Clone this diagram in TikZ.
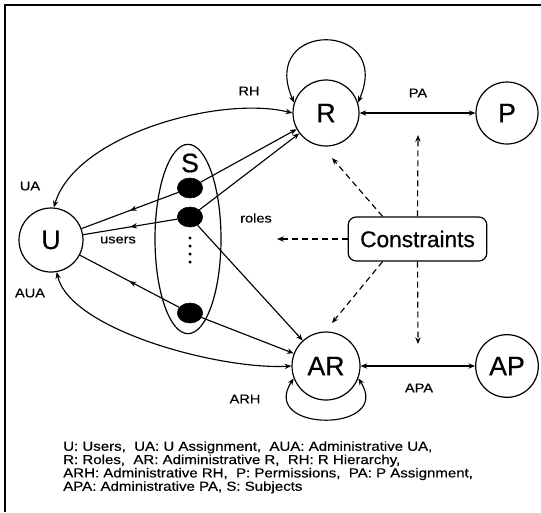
\documentclass[tikz,border=0pt]{standalone}
\usepackage{fontspec}
\setmainfont{Liberation Sans}[FakeBold=0.6]
\newfontfamily\lblfont{Liberation Sans}[FakeStretch=1.15,FakeBold=0.4]
\usetikzlibrary{arrows.meta,decorations.markings,calc,shapes.geometric}
\begin{document}
\begin{tikzpicture}[x=0.75pt,y=-0.75pt,
  bigc/.style={circle,draw,line width=0.9pt,inner sep=0pt,font=\fontsize{20}{20}\selectfont},
  dotn/.style={ellipse,fill,draw,inner sep=0pt,minimum width=19pt,minimum height=15pt},
  conn/.style={line width=0.85pt},
  tip/.style={-{Stealth[length=5pt,width=4pt]}},
  tips/.style={{Stealth[length=5pt,width=4pt]}-{Stealth[length=5pt,width=4pt]}},
  dasharrow/.style={line width=0.85pt,dash pattern=on 4.5pt off 3pt,-{Stealth[length=5pt,width=4pt]}},
  midarrow/.style={postaction={decorate},decoration={markings,mark=at position 0.5 with {\arrow{Stealth[length=5pt,width=4pt]}}}},
  lbl/.style={font=\lblfont\fontsize{9.5}{10}\selectfont,inner sep=0pt}
]
\useasboundingbox (0,0) rectangle (541,512);
% frame (open on right and bottom)
\draw[line width=1.1pt] (5,512) -- (5,5) -- (541,5);

% main nodes
\node[bigc,minimum size=48pt] (U) at (51,240) {U};
\node[bigc,minimum size=49.5pt] (R) at (326,113) {R};
\node[bigc,minimum size=46.5pt] (P) at (507,113) {P};
\node[bigc,minimum size=51pt] (AR) at (326,366) {AR};
\node[bigc,minimum size=47pt] (AP) at (507,366) {AP};
\node[draw,line width=0.9pt,rounded corners=6pt,minimum width=104pt,minimum height=33pt,inner sep=0pt,font=\fontsize{17}{17}\selectfont] (C) at (417.5,239) {Constraints};

% subjects
\node[ellipse,draw,line width=0.9pt,minimum width=49.5pt,minimum height=142pt,inner sep=0pt] (S) at (188,239) {};
\node[font=\fontsize{20}{20}\selectfont,inner sep=0pt] (Sl) at (190,163) {S};
\node[dotn] (d1) at (190,188) {};
\node[dotn] (d2) at (190,217) {};
\node[dotn] (d3) at (190,313) {};
\foreach \yy [count=\i] in {238,246,254,262} \fill (190,\yy) circle (1.3pt) coordinate (v\i);

% subject to user
\draw[conn,midarrow] (d1) -- (U);
\draw[conn,midarrow] (d2) -- (U);
\draw[conn,midarrow] (d3) -- (U);
% subject to roles
\draw[conn,tip] (d1) -- (R);
\draw[conn,tip] (d2) -- (R);
\draw[conn,tip] (d2) -- (AR);
\draw[conn,tip] (d3) -- (AR);

% UA and AUA curves
\draw[conn,tips] (R.180) .. controls (220,95) and (75,135) .. (U.85);
\draw[conn,tips] (AR.180) .. controls (220,370) and (70,330) .. (U.-80);

% self loops
\draw[conn,tips] (R.162) .. controls (258,20) and (394,20) .. (R.18);
\draw[conn,tips] (AR.201) .. controls (258,433) and (394,433) .. (AR.-21);

% PA and APA
\draw[conn,tips] (R) -- (P);
\draw[conn,tips] (AR) -- (AP);

% constraints dashed arrows
\coordinate (cR) at (332,158);
\coordinate (cPA) at (418,135);
\coordinate (cL) at (277,239);
\coordinate (cAR) at (332,323);
\coordinate (cAPA) at (418,344);
\draw[dasharrow] ($(C.north west)!0.25!(C.north east)$) -- (cR);
\draw[dasharrow] (C.north) -- (cPA);
\draw[dasharrow] (C.west) -- (cL);
\draw[dasharrow] ($(C.south west)!0.25!(C.south east)$) -- (cAR);
\draw[dasharrow] (C.south) -- (cAPA);

% labels
\node[lbl] (lRH) at (249,91) {RH};
\node[lbl] (lUA) at (30,186) {UA};
\node[lbl] (lusers) at (118,240) {users};
\node[lbl] (lroles) at (256,218) {roles};
\node[lbl] (lAUA) at (30,293) {AUA};
\node[lbl] (lARH) at (245,399) {ARH};
\node[lbl] (lPA) at (418,93) {PA};
\node[lbl] (lAPA) at (419,388) {APA};

% legend
\node[anchor=north west,align=left,inner sep=0pt,font=\lblfont\fontsize{9.8}{10}\selectfont] (leg) at (63,441)
{U: Users,~ UA: U Assignment,~ AUA: Administrative UA,\\
R: Roles,~ AR: Adiministrative R,~ RH: R Hierarchy,\\
ARH: Administrative RH,~ P: Permissions,~ PA: P Assignment,\\
APA: Administrative PA, S: Subjects};
\end{tikzpicture}
\end{document}
